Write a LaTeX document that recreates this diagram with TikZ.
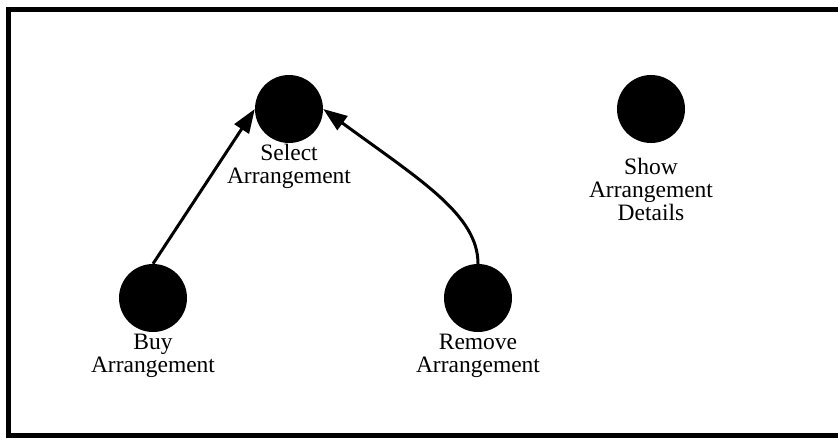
\documentclass[tikz,border=0pt]{standalone}
\usepackage{fontspec}
\setmainfont{Liberation Serif}
\usetikzlibrary{arrows.meta}
\begin{document}
\begin{tikzpicture}[x=1pt,y=-1pt,
  usecase/.style={circle,fill=black,minimum size=68pt,inner sep=0pt},
  caption/.style={align=center,anchor=north,inner sep=0pt,
    font=\fontsize{23.5}{23}\selectfont},
  flow/.style={line width=3pt,-{Triangle[length=24pt,width=17pt]}}]
\useasboundingbox (0,0) rectangle (838,437);
\clip (0,0) rectangle (838,437);
% frame of the diagram
\draw[line width=5pt] (8.5,9.5) rectangle (845,435.5);
% use cases
\node[usecase] (select) at (289,109) {};
\node[usecase] (show)   at (651,109) {};
\node[usecase] (buy)    at (153,298) {};
\node[usecase] (remove) at (478,298) {};
% their names
\node[caption] (selectname) at (289,144) {Select\\Arrangement};
\node[caption] (showname)   at (651,158) {Show\\Arrangement\\Details};
\node[caption] (buyname)    at (153,334) {Buy\\Arrangement};
\node[caption] (removename) at (478,334) {Remove\\Arrangement};
% dependencies
\draw[flow] (buy.north) -- (select.west);
\draw[flow] (remove.north) .. controls +(0,-49) and +(97,71) .. (select.east);
\end{tikzpicture}
\end{document}
